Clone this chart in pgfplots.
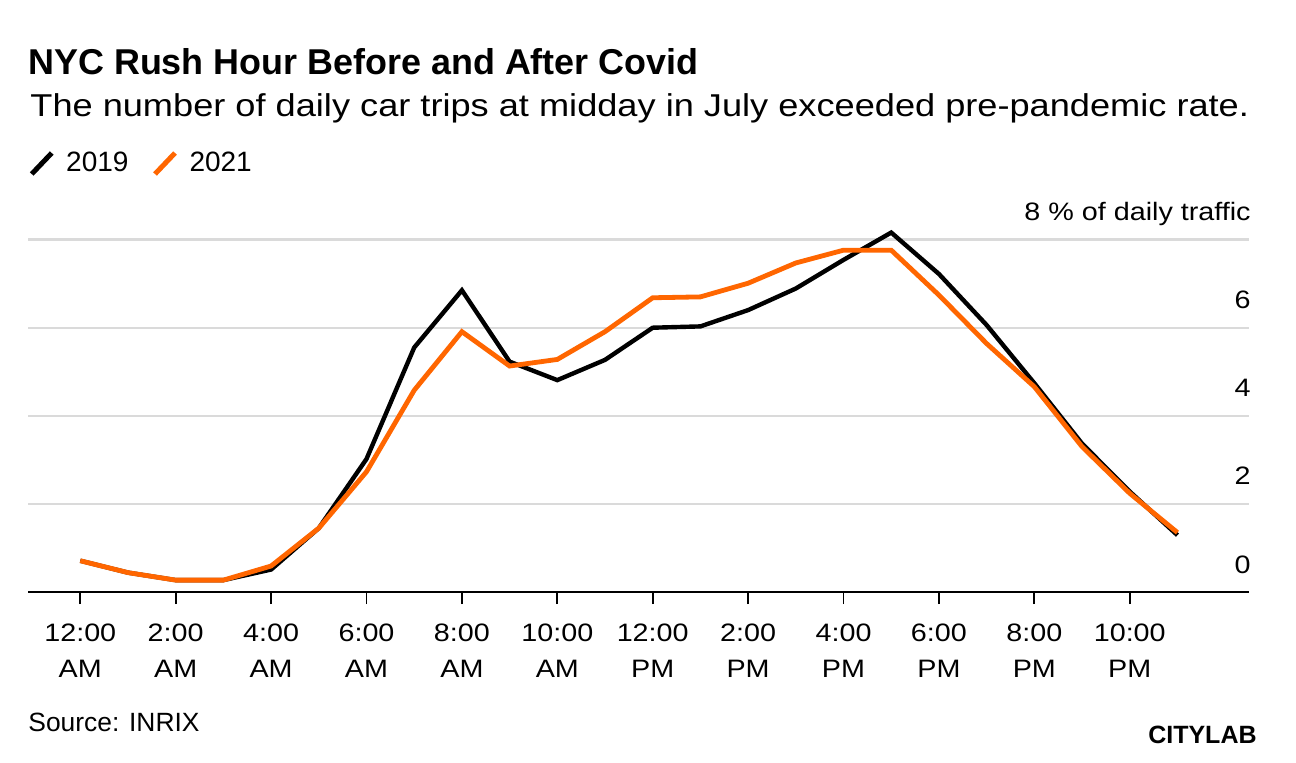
\documentclass[border=0pt]{standalone}
\usepackage{pgfplots}
\pgfplotsset{compat=1.18}
\usepackage{fontspec}
\setmainfont{Liberation Sans}
\newfontfamily\stretchfont[FakeStretch=1.145]{Liberation Sans}
\newfontfamily\tickfont[FakeStretch=1.14]{Liberation Sans}
\definecolor{cborange}{RGB}{255,102,0}
\definecolor{gridgray}{RGB}{218,218,218}
\begin{document}
\begin{tikzpicture}
\fill[white] (0,0) rectangle (648pt,-381pt);
\path[use as bounding box] (0,0) rectangle (648pt,-381pt);
\node[anchor=base west, inner sep=0pt] at (14pt,-37.2pt) {\fontsize{17.95}{20}\selectfont\bfseries NYC Rush Hour Before and After Covid};
\node[anchor=base west, inner sep=0pt] at (15pt,-58pt) {\stretchfont\fontsize{15.8}{18}\selectfont The number of daily car trips at midday in July exceeded pre-pandemic rate.};
\begin{axis}[
  at={(14pt,-296pt)}, anchor=south west,
  scale only axis, width=610.5pt, height=176.2pt,
  xmin=-1.096, xmax=24.5, ymin=0, ymax=8,
  clip=false,
  axis x line*=bottom, axis y line*=right,
  x axis line style={-, black, line width=1pt},
  y axis line style={draw=none},
  xtick={0,2,...,22},
  xticklabels={{12:00\\AM},{2:00\\AM},{4:00\\AM},{6:00\\AM},{8:00\\AM},{10:00\\AM},{12:00\\PM},{2:00\\PM},{4:00\\PM},{6:00\\PM},{8:00\\PM},{10:00\\PM}},
  ytick={0,2,4,6,8},
  yticklabels={0,2,4,6,{8 \% of daily traffic}},
  tick align=outside,
  major tick length=6pt,
  x tick style={black, line width=0.9pt},
  y tick style={draw=none},
  ymajorgrids,
  grid style={gridgray, line width=1.2pt},
  xticklabel style={align=center, anchor=north, inner sep=0pt, yshift=-9.5pt, font=\tickfont\fontsize{12.6}{18.3}\selectfont},
  yticklabel style={anchor=base east, inner sep=0pt, yshift=9.5pt, xshift=-5pt, font=\tickfont\fontsize{12.6}{15}\selectfont},
  legend columns=2,
  legend style={at={(0.001,1.216)}, anchor=west, draw=none, fill=none, inner sep=0pt, outer sep=0pt,
    font=\fontsize{14}{16}\selectfont,
    nodes={inner sep=0pt},
    /tikz/every even column/.append style={column sep=12pt},
    /tikz/every odd column/.append style={column sep=6pt}},
  legend image code/.code={\draw[#1, line width=2.5pt] (0pt,-5.25pt) -- (10pt,5.25pt);},
]
\addplot[black, line width=2.2pt, mark=none] coordinates {
(0,0.71) (1,0.44) (2,0.27) (3,0.27) (4,0.51) (5,1.45) (6,3.02) (7,5.55) (8,6.85) (9,5.23) (10,4.81) (11,5.27)
(12,6.00) (13,6.03) (14,6.40) (15,6.89) (16,7.54) (17,8.16) (18,7.22) (19,6.06) (20,4.74) (21,3.37) (22,2.28) (23,1.29)};
\addlegendentry{2019}
\addplot[cborange, line width=2.4pt, mark=none] coordinates {
(0,0.71) (1,0.44) (2,0.27) (3,0.27) (4,0.59) (5,1.45) (6,2.73) (7,4.58) (8,5.91) (9,5.13) (10,5.28) (11,5.91)
(12,6.68) (13,6.70) (14,7.01) (15,7.47) (16,7.76) (17,7.76) (18,6.74) (19,5.64) (20,4.66) (21,3.30) (22,2.24) (23,1.35)};
\addlegendentry{2021}
\end{axis}
\node[anchor=base west, inner sep=0pt] at (14pt,-365.8pt) {\fontsize{13.2}{15}\selectfont Source: INRIX};
\node[anchor=base east, inner sep=0pt] at (628.5pt,-371.5pt) {\fontsize{12.5}{14}\selectfont\bfseries CITYLAB};
\end{tikzpicture}
\end{document}
